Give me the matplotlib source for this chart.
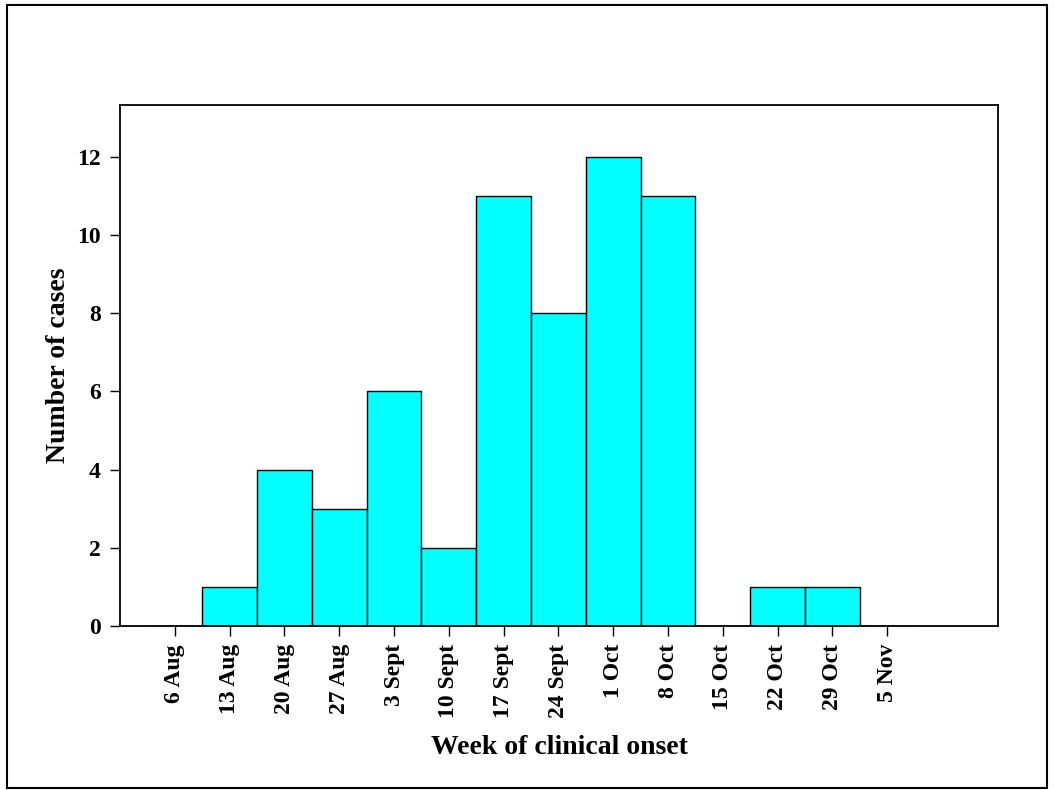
import numpy as np
import matplotlib.pyplot as plt
from matplotlib.patches import Rectangle

weeks = ["6 Aug", "13 Aug", "20 Aug", "27 Aug", "3 Sept", "10 Sept", "17 Sept",
         "24 Sept", "1 Oct", "8 Oct", "15 Oct", "22 Oct", "29 Oct", "5 Nov"]
cases = [0, 1, 4, 3, 6, 2, 11, 8, 12, 11, 0, 1, 1, 0]

plt.rcParams['font.family'] = ['Liberation Serif', 'DejaVu Serif']
plt.rcParams['font.weight'] = 'bold'

fig = plt.figure(figsize=(10.54, 7.9), dpi=100)
ax = fig.add_axes([120 / 1054, 1 - 626 / 790, 878 / 1054, 521 / 790])

x = np.arange(len(weeks))
ax.bar(x, cases, width=1.0, color='#00ffff', edgecolor='black', linewidth=1.0)

ax.set_xlim(-1, 15.02)
ax.set_ylim(0, 13.33)
ax.set_xticks(x)
ax.set_xticklabels(weeks, rotation=90, fontsize=17, fontweight='bold')
ax.set_yticks([0, 2, 4, 6, 8, 10, 12])
ax.set_yticklabels(["0", "2", "4", "6", "8", "10", "12"], fontsize=17, fontweight='bold')
ax.tick_params(axis='x', length=7, width=1, pad=6)
ax.tick_params(axis='y', length=7, width=1, pad=7)
for s in ax.spines.values():
    s.set_linewidth(1.3)

ax.set_xlabel("Week of clinical onset", fontsize=20, fontweight='bold', labelpad=12)
ax.set_ylabel("Number of cases", fontsize=20, fontweight='bold', labelpad=4)

# outer frame
fig.patches.append(Rectangle((7 / 1054, 2 / 790), 1040 / 1054, 783 / 790,
                             transform=fig.transFigure, fill=False,
                             edgecolor='black', linewidth=1.5))

plt.savefig("out.png", dpi=100)
